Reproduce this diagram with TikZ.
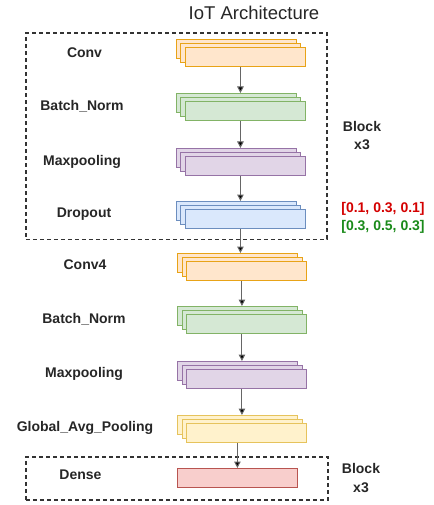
\documentclass[tikz,border=0pt]{standalone}
\usepackage{fontspec}
\setmainfont{Liberation Sans}
\usetikzlibrary{arrows.meta}

% draw.io style palette
\definecolor{orfill}{HTML}{FFE6CC}\definecolor{ordraw}{HTML}{E8A317}
\definecolor{grfill}{HTML}{D5E8D4}\definecolor{grdraw}{HTML}{82B366}
\definecolor{pufill}{HTML}{E1D5E7}\definecolor{pudraw}{HTML}{9673A6}
\definecolor{blfill}{HTML}{DAE8FC}\definecolor{bldraw}{HTML}{6C8EBF}
\definecolor{yefill}{HTML}{FFF2CC}\definecolor{yedraw}{HTML}{E6C35C}
\definecolor{refill}{HTML}{F8CECC}\definecolor{redraw}{HTML}{B85450}
\definecolor{txtred}{HTML}{D40000}\definecolor{txtgreen}{HTML}{1A8A1A}

\tikzset{
  layerbox/.style={rectangle, anchor=north west, minimum width=120pt,
    minimum height=19pt, inner sep=0pt, line width=0.9pt},
  lbl/.style={font=\bfseries\fontsize{14}{18}\selectfont, text=black!85},
  blocklbl/.style={lbl, align=center},
  flow/.style={draw=black!60, line width=1pt,
    -{Triangle[width=6.5pt,length=6.5pt,fill=black]}},
  groupbox/.style={draw=black!80, line width=1.6pt, dash pattern=on 4pt off 3pt},
}

% three stacked copies of a layer: #1 name, #2 x of back copy, #3 y of back copy, #4 fill, #5 stroke
\newcommand\layerstack[5]{%
  \node[layerbox, fill=#4, draw=#5] (#1-b) at (#2,#3) {};
  \node[layerbox, fill=#4, draw=#5] (#1-m) at (#2+4.5,#3+4) {};
  \node[layerbox, fill=#4, draw=#5] (#1) at (#2+9,#3+8) {};
}

\begin{document}
\begin{tikzpicture}[x=1pt,y=-1pt]
\useasboundingbox (0,0) rectangle (433,505);

\node[font=\fontsize{18.5}{22}\selectfont, text=black!85] (title) at (254,13) {IoT Architecture};

% repeated block
\node[groupbox, rectangle, anchor=north west, minimum width=301pt, minimum height=206pt, inner sep=0pt] (blk1) at (25,32.5) {};

\layerstack{conv}{175.5}{39}{orfill}{ordraw}
\layerstack{bn}{175.5}{93}{grfill}{grdraw}
\layerstack{mp}{175.5}{148}{pufill}{pudraw}
\layerstack{drop}{175.5}{201}{blfill}{bldraw}

\layerstack{convb}{177}{253}{orfill}{ordraw}
\layerstack{bnb}{177}{306}{grfill}{grdraw}
\layerstack{mpb}{177}{361}{pufill}{pudraw}
\layerstack{gap}{177}{415}{yefill}{yedraw}

% dense block
\node[groupbox, rectangle, anchor=north west, minimum width=302pt, minimum height=43pt, inner sep=0pt] (blk2) at (25,456) {};
\node[layerbox, fill=refill, draw=redraw, line width=0.8pt] (dense) at (177,468) {};

% layer names
\node[lbl] (l1) at (84.5,53) {Conv};
\node[lbl] (l2) at (82,106) {Batch\_Norm};
\node[lbl] (l3) at (82,162) {Maxpooling};
\node[lbl] (l4) at (84,214) {Dropout};
\node[lbl] (l5) at (85,265) {Conv4};
\node[lbl] (l6) at (84,319) {Batch\_Norm};
\node[lbl] (l7) at (84,374) {Maxpooling};
\node[lbl] (l8) at (85,428) {Global\_Avg\_Pooling};
\node[lbl] (l9) at (80.5,475) {Dense};

% block annotations
\node[blocklbl] (rep1) at (362,136) {Block\\x3};
\node[lbl, text=txtred] (rate1) at (383,209) {[0.1, 0.3, 0.1]};
\node[lbl, text=txtgreen] (rate2) at (383,227) {[0.3, 0.5, 0.3]};
\node[blocklbl] (rep2) at (361,478) {Block\\x3};

% data flow
\draw[flow] (conv-m.south |- conv.south) -- (conv-m.south |- bn-b.north);
\draw[flow] (bn-m.south |- bn.south) -- (bn-m.south |- mp-b.north);
\draw[flow] (mp-m.south |- mp.south) -- (mp-m.south |- drop-b.north);
\draw[flow] (drop-m.south |- drop.south) -- (drop-m.south |- convb-b.north);
\draw[flow] (convb-m.south |- convb.south) -- (convb-m.south |- bnb-b.north);
\draw[flow] (bnb-m.south |- bnb.south) -- (bnb-m.south |- mpb-b.north);
\draw[flow] (mpb-m.south |- mpb.south) -- (mpb-m.south |- gap-b.north);
\draw[flow] (dense.north |- gap.south) -- (dense.north);
\end{tikzpicture}
\end{document}
